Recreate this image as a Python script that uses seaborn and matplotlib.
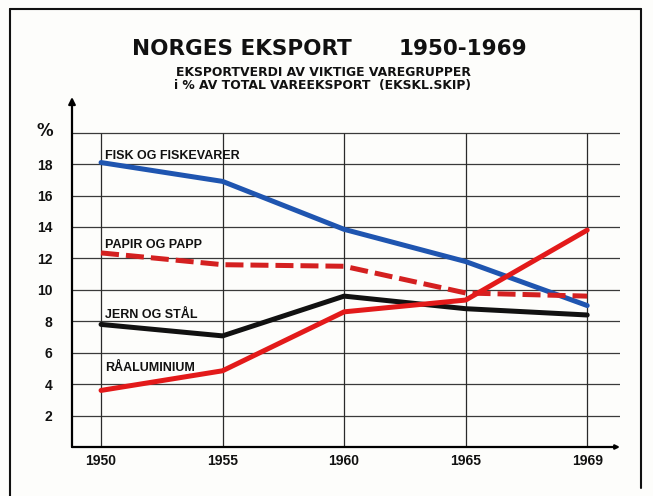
import matplotlib
matplotlib.use("Agg")
import matplotlib.pyplot as plt
import seaborn as sns
import pandas as pd
from matplotlib.lines import Line2D

# Data (% of total goods export, ships excluded)
years = ["1950", "1955", "1960", "1965", "1969"]
fisk = [18.1, 16.9, 13.85, 11.8, 9.0]
papir = [12.35, 11.6, 11.5, 9.8, 9.6]
jern = [7.8, 7.07, 9.6, 8.8, 8.4]
aluminium = [3.6, 4.85, 8.6, 9.35, 13.8]
groups = ["JERN OG STÅL", "FISK OG FISKEVARER", "PAPIR OG PAPP", "RÅALUMINIUM"]
label_y = [8.4, 18.5, 12.85, 5.0]
yticks = [2, 4, 6, 8, 10, 12, 14, 16, 18]

series = dict(zip(groups, [jern, fisk, papir, aluminium]))
df = pd.DataFrame(
    [(g, i, v) for g in groups for i, v in enumerate(series[g])],
    columns=["group", "pos", "value"],
)

sns.set_theme(style="white")
plt.rcParams["font.family"] = ["DejaVu Sans"]
plt.rcParams["text.color"] = "#111111"
plt.rcParams["xtick.color"] = "#111111"
plt.rcParams["ytick.color"] = "#111111"
narrow = ["Liberation Sans Narrow", "Liberation Sans"]

fig = plt.figure(figsize=(6.53, 4.96), dpi=100)
fig.patch.set_facecolor("#fdfdfb")
ax = fig.add_axes([72 / 653, 1 - 447 / 496, 548 / 653, 350 / 496])
ax.set_facecolor("none")

# hand-drawn grid
for y in yticks + [20]:
    ax.axhline(y, color="#3a3a3a", lw=0.9, zorder=1)
ax.vlines(range(len(years)), 0, 20, color="#2a2a2a", lw=0.9, zorder=1)

palette = {"JERN OG STÅL": "#111111", "FISK OG FISKEVARER": "#1f55b0",
           "PAPIR OG PAPP": "#d42020", "RÅALUMINIUM": "#e31a1a"}
dashes = {"JERN OG STÅL": "", "FISK OG FISKEVARER": "",
          "PAPIR OG PAPP": (3.6, 1.4), "RÅALUMINIUM": ""}
sns.lineplot(data=df, x="pos", y="value", hue="group", style="group",
             palette=palette, dashes=dashes, hue_order=groups, style_order=groups,
             lw=3.6, legend=False, ax=ax, zorder=3)

for g, ly in zip(groups, label_y):
    ax.text(0.03, ly, g, fontsize=9, fontweight="bold", family=narrow,
            ha="left", va="center", zorder=4)

ax.set_xlim(-0.239, 4.27)
ax.set_ylim(0, 22.27)
for s in ax.spines.values():
    s.set_visible(False)
ax.set_xticks(range(len(years)))
ax.set_xticklabels(years, fontsize=10, fontweight="bold", family=narrow)
ax.set_yticks(yticks)
ax.set_yticklabels([str(t) for t in yticks], fontsize=10, fontweight="bold", family=narrow)
ax.tick_params(length=0, pad=14, axis="y")
ax.tick_params(length=0, pad=5, axis="x")
ax.set_xlabel("")
ax.set_ylabel("")
ax.text(-0.05, 20.1, "%", transform=ax.get_yaxis_transform(), fontsize=12,
        fontweight="bold", ha="center", va="center")

# axes with arrows
ax.annotate("", xy=(0, 1), xytext=(0, 0), xycoords="axes fraction",
            arrowprops=dict(arrowstyle="-|>", color="black", lw=1.6,
                            mutation_scale=10, shrinkA=0, shrinkB=0))
ax.annotate("", xy=(1, 0), xytext=(0, 0), xycoords="axes fraction",
            arrowprops=dict(arrowstyle="-|>", color="black", lw=1.6,
                            mutation_scale=6, shrinkA=0, shrinkB=0))

# titles
fig.text(132 / 653, 1 - 49 / 496, "NORGES EKSPORT", fontsize=15.5, fontweight="bold",
         ha="left", va="center")
fig.text(527 / 653, 1 - 49 / 496, "1950-1969", fontsize=15.5, fontweight="bold",
         ha="right", va="center")
fig.text(323 / 653, 1 - 72.5 / 496, "EKSPORTVERDI AV VIKTIGE VAREGRUPPER",
         fontsize=8.9, fontweight="bold", ha="center", va="center")
fig.text(323 / 653, 1 - 85.5 / 496, "i % AV TOTAL VAREEKSPORT  (EKSKL.SKIP)",
         fontsize=8.9, fontweight="bold", ha="center", va="center")

# outer frame
for xs, ys in [([10, 10], [9, 496]), ([10, 641], [9, 9]), ([641, 641], [9, 488])]:
    fig.add_artist(Line2D([x / 653 for x in xs], [1 - y / 496 for y in ys],
                          color="#111111", lw=1.5))

fig.savefig("out.png", dpi=100, facecolor=fig.get_facecolor())
